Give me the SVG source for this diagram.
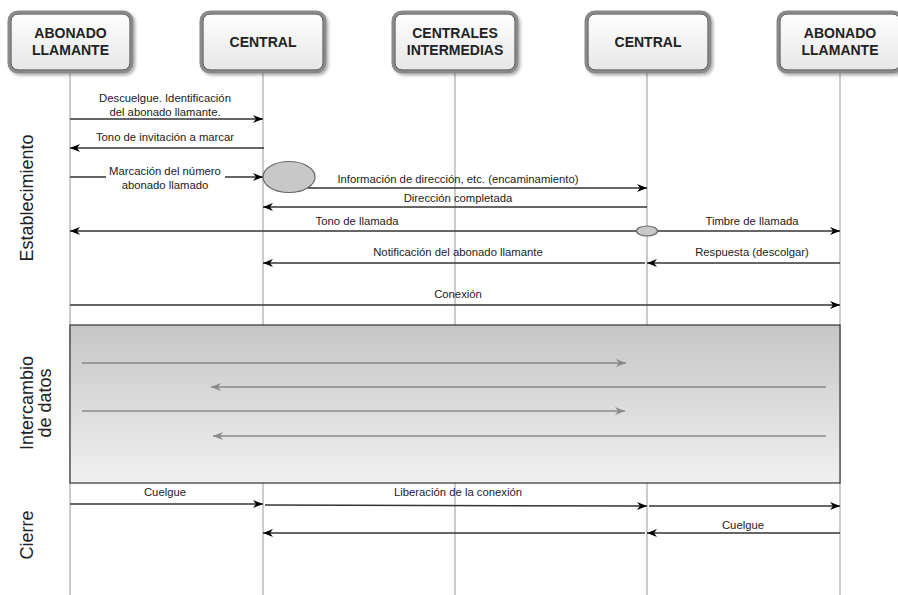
<svg xmlns="http://www.w3.org/2000/svg" width="898" height="595" viewBox="0 0 898 595">
<defs>
<linearGradient id="boxg" x1="0" y1="0" x2="0" y2="1">
<stop offset="0" stop-color="#ffffff"/>
<stop offset="1" stop-color="#e6e6e6"/>
</linearGradient>
<linearGradient id="areag" x1="0" y1="0" x2="0" y2="1">
<stop offset="0" stop-color="#c6c6c6"/>
<stop offset="1" stop-color="#f0f0f0"/>
</linearGradient>
<marker id="ah" viewBox="0 0 10 10" refX="10" refY="5" markerWidth="10" markerHeight="10" markerUnits="userSpaceOnUse" orient="auto">
<path d="M0,1 L10,5 L0,9 L3,5 Z" fill="#000"/>
</marker>
<marker id="ahg" viewBox="0 0 10 10" refX="10" refY="5" markerWidth="10" markerHeight="10" markerUnits="userSpaceOnUse" orient="auto">
<path d="M0,1 L10,5 L0,9 L3,5 Z" fill="#8a8a8a"/>
</marker>
<filter id="sh" x="-10%" y="-10%" width="125%" height="130%">
<feDropShadow dx="2" dy="2" stdDeviation="1.5" flood-color="#000" flood-opacity="0.3"/>
</filter>
</defs>
<style>
.box{fill:url(#boxg);stroke:#8a8a8a;stroke-width:3}
.boxin{fill:none;stroke:#3a3a3a;stroke-width:1}
.bt{font-family:"Liberation Sans",Arial,sans-serif;font-weight:bold;font-size:14px;fill:#222;text-anchor:middle}
.life{stroke:#9a9a9a;stroke-width:1;fill:none}
.msg{stroke:#333;stroke-width:1.5;fill:none;marker-end:url(#ah)}
.ln{stroke:#333;stroke-width:1.5;fill:none}
.gmsg{stroke:#8a8a8a;stroke-width:1.5;fill:none;marker-end:url(#ahg)}
.lbl{font-family:"Liberation Sans",Arial,sans-serif;font-size:11.3px;fill:#222;text-anchor:middle}
.side{font-family:"Liberation Sans",Arial,sans-serif;font-size:18px;fill:#222;text-anchor:middle}
.ell{fill:#c8c8c8;stroke:#666;stroke-width:1.2}
</style>
<rect width="898" height="595" fill="#fff"/>
<g id="lifelines">
<line class="life" x1="70" y1="73" x2="70" y2="595"/>
<line class="life" x1="263" y1="73" x2="263" y2="595"/>
<line class="life" x1="455" y1="73" x2="455" y2="595"/>
<line class="life" x1="647" y1="73" x2="647" y2="595"/>
<line class="life" x1="840" y1="73" x2="840" y2="595"/>
</g>
<g id="n1">
<rect class="box" x="9" y="12" width="123" height="60" rx="9" filter="url(#sh)"/>
<rect class="boxin" x="11" y="14" width="119" height="56" rx="7"/>
<text class="bt" x="70.5" y="38">ABONADO</text>
<text class="bt" x="70.5" y="55">LLAMANTE</text>
</g>
<g id="n2">
<rect class="box" x="201" y="12" width="124" height="60" rx="9" filter="url(#sh)"/>
<rect class="boxin" x="203" y="14" width="120" height="56" rx="7"/>
<text class="bt" x="263" y="47">CENTRAL</text>
</g>
<g id="n3">
<rect class="box" x="393" y="12" width="124" height="60" rx="9" filter="url(#sh)"/>
<rect class="boxin" x="395" y="14" width="120" height="56" rx="7"/>
<text class="bt" x="455" y="38">CENTRALES</text>
<text class="bt" x="455" y="55">INTERMEDIAS</text>
</g>
<g id="n4">
<rect class="box" x="586" y="12" width="124" height="60" rx="9" filter="url(#sh)"/>
<rect class="boxin" x="588" y="14" width="120" height="56" rx="7"/>
<text class="bt" x="648" y="47">CENTRAL</text>
</g>
<g id="n5">
<rect class="box" x="778" y="12" width="124" height="60" rx="9" filter="url(#sh)"/>
<rect class="boxin" x="780" y="14" width="120" height="56" rx="7"/>
<text class="bt" x="840" y="38">ABONADO</text>
<text class="bt" x="840" y="55">LLAMANTE</text>
</g>
<g id="phases">
<text class="side" transform="translate(33,198) rotate(-90)">Establecimiento</text>
<text class="side" transform="translate(33,403) rotate(-90)">Intercambio</text>
<text class="side" transform="translate(51,403) rotate(-90)">de datos</text>
<text class="side" transform="translate(33,535) rotate(-90)">Cierre</text>
</g>
<g id="exchange">
<rect x="70" y="325" width="770" height="158" fill="url(#areag)" stroke="#333" stroke-width="1.2"/>
</g>
<g id="connectors">
<line class="msg" x1="70" y1="119" x2="263" y2="119"/>
<text class="lbl" x="165" y="102">Descuelgue. Identificación</text>
<text class="lbl" x="165" y="116">del abonado llamante.</text>
<line class="msg" x1="264" y1="148" x2="70" y2="148"/>
<text class="lbl" x="165" y="141">Tono de invitación a marcar</text>
<line class="ln" x1="70" y1="177" x2="106" y2="177"/>
<line class="msg" x1="225" y1="177" x2="263" y2="177"/>
<text class="lbl" x="165" y="175">Marcación del número</text>
<text class="lbl" x="165" y="189">abonado llamado</text>
<ellipse class="ell" cx="289" cy="177" rx="26" ry="15.5"/>
<line class="msg" x1="308" y1="188" x2="647" y2="188"/>
<text class="lbl" x="458" y="183">Información de dirección, etc. (encaminamiento)</text>
<line class="msg" x1="647" y1="207" x2="263" y2="207"/>
<text class="lbl" x="458" y="202">Dirección completada</text>
<line class="msg" x1="637" y1="231" x2="70" y2="231"/>
<text class="lbl" x="357" y="225">Tono de llamada</text>
<line class="msg" x1="657" y1="231" x2="840" y2="231"/>
<text class="lbl" x="752" y="225">Timbre de llamada</text>
<ellipse class="ell" cx="647" cy="231" rx="10.5" ry="5"/>
<line class="msg" x1="645" y1="263" x2="263" y2="263"/>
<text class="lbl" x="458" y="256">Notificación del abonado llamante</text>
<line class="msg" x1="840" y1="263" x2="647" y2="263"/>
<text class="lbl" x="752" y="256">Respuesta (descolgar)</text>
<line class="msg" x1="70" y1="305" x2="840" y2="305"/>
<text class="lbl" x="458" y="298">Conexión</text>
<line class="gmsg" x1="82" y1="363" x2="626" y2="363"/>
<line class="gmsg" x1="826" y1="387" x2="211" y2="387"/>
<line class="gmsg" x1="82" y1="411" x2="625" y2="411"/>
<line class="gmsg" x1="826" y1="436" x2="213" y2="436"/>
<line class="msg" x1="70" y1="504" x2="263" y2="504"/>
<text class="lbl" x="165" y="496">Cuelgue</text>
<line class="msg" x1="265" y1="505" x2="647" y2="506"/>
<line class="msg" x1="649" y1="506" x2="840" y2="506"/>
<text class="lbl" x="458" y="496">Liberación de la conexión</text>
<line class="msg" x1="645" y1="533" x2="263" y2="533"/>
<line class="msg" x1="840" y1="533" x2="647" y2="533"/>
<text class="lbl" x="743" y="529">Cuelgue</text>
</g>
</svg>
